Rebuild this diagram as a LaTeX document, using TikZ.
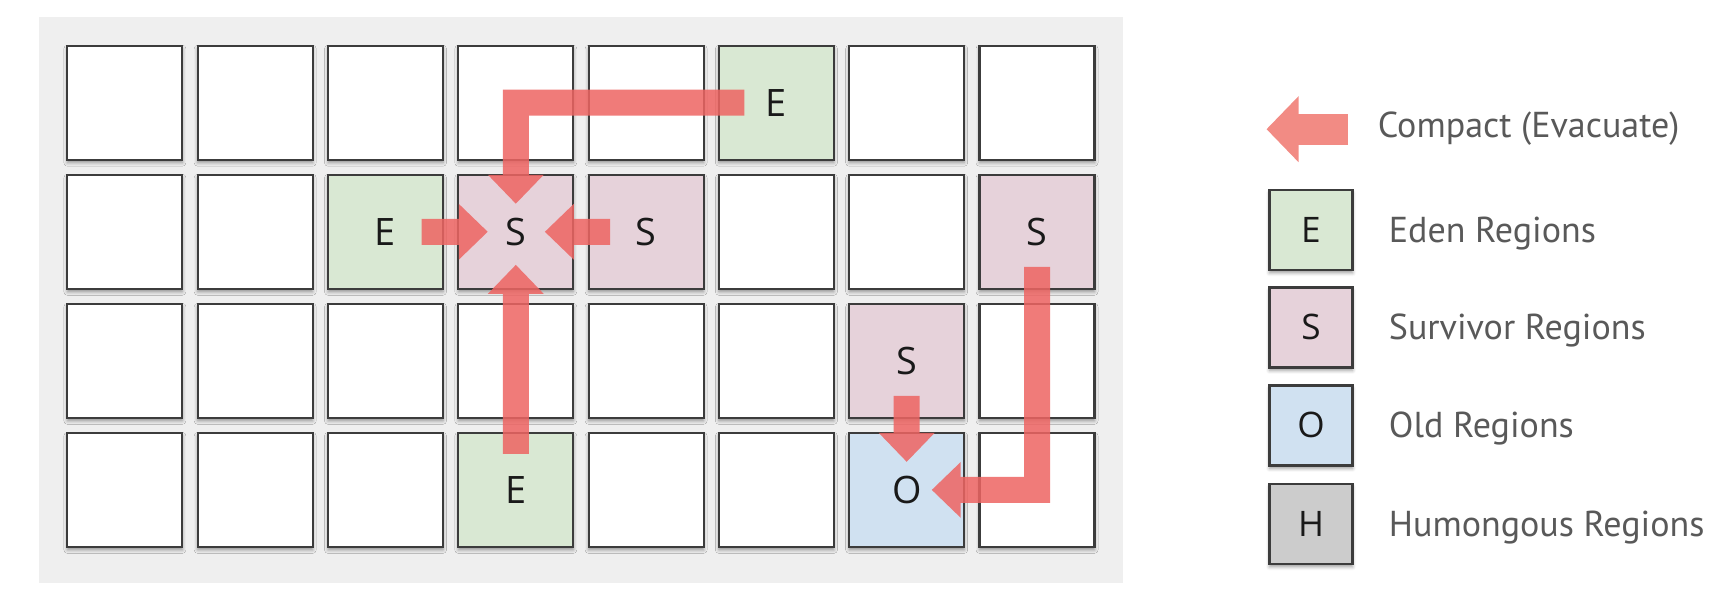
\documentclass[tikz,border=0pt]{standalone}
\usepackage{fontspec}
\setmainfont{PT Sans}
\newfontfamily\cellfont{Open Sans}
\usetikzlibrary{arrows.meta,positioning,shadows.blur,backgrounds}
\definecolor{heappanel}{HTML}{EFEFEF}
\definecolor{heapedge}{HTML}{3C3C3C}
\definecolor{fillw}{HTML}{FFFFFF}
\definecolor{fillE}{HTML}{D9E8D3}
\definecolor{fillS}{HTML}{E6D2DA}
\definecolor{fillO}{HTML}{D0E1F1}
\definecolor{fillH}{HTML}{CCCCCC}
\definecolor{evacred}{HTML}{EE6462}
\definecolor{keyred}{HTML}{F28B84}
\definecolor{keygrey}{HTML}{595959}
\newcommand\regiontag[1]{\if w#1\else#1\fi}
\tikzset{
  region/.style={
    draw=heapedge,
    line width=1.2pt,
    fill=fill#1,
    minimum width=2.3cm,
    minimum height=2.28cm,
    inner sep=0pt,
    text height=0.54cm,
    text depth=0pt,
    text=black!90,
    font=\cellfont\fontsize{21.5}{25}\selectfont,
    blur shadow={shadow xshift=0pt, shadow yshift=-0.06cm,
      shadow blur radius=0.07cm, shadow opacity=40}
  },
  keybox/.style={region=#1, minimum width=1.66cm, minimum height=1.6cm,
    text height=0.5cm, font=\cellfont\fontsize{20}{24}\selectfont},
  keylabel/.style={
    anchor=west,
    inner sep=0pt,
    text height=0.5cm,
    text depth=0pt,
    text=keygrey,
    font=\fontsize{20.5}{24}\selectfont
  },
  evac/.style={-{Triangle[width=1.08cm, length=0.58cm]}, line width=0.52cm,
    draw=evacred, line join=miter},
  keyarrow/.style={-{Triangle[width=1.28cm, length=0.64cm]}, line width=0.62cm,
    draw=keyred}
}
\begin{document}
\begin{tikzpicture}[x=1cm,y=1cm]
\useasboundingbox (0,0) rectangle (34.64,11.84);

% heap regions, row by row
\foreach \row [count=\r] in {{w,w,w,w,w,E,w,w},{w,w,E,S,S,w,w,S},
                             {w,w,w,w,w,w,S,w},{w,w,w,E,w,w,O,w}}
  \foreach \k [count=\c] in \row
    \node[region=\k] (r\r-c\c) at ({2.498+2.606*(\c-1)},{9.785-2.581*(\r-1)})
      {\regiontag{\k}};

% evacuation moves
\begin{scope}[transparency group, opacity=0.85]
  \draw[evac, shorten <=0.64cm, shorten >=0.56cm] (r1-c6.center) -| (r2-c4.center);
  \draw[evac, shorten <=0.72cm, shorten >=0.56cm] (r2-c3.center) -- (r2-c4.center);
  \draw[evac, shorten <=0.72cm, shorten >=0.58cm] (r2-c5.center) -- (r2-c4.center);
  \draw[evac, shorten <=0.72cm, shorten >=0.66cm] (r4-c4.center) -- (r2-c4.center);
  \draw[evac, shorten <=0.70cm, shorten >=0.56cm] (r3-c7.center) -- (r4-c7.center);
  \draw[evac, shorten <=0.70cm, shorten >=0.50cm] (r2-c8.center) |- (r4-c7.center);
\end{scope}

% legend
\node[keylabel] (compact) at (27.55,9.33) {Compact (Evacuate)};
\coordinate (keytail) at (26.96,9.256);
\coordinate (keytip) at (25.33,9.256);
\draw[keyarrow] (keytail) -- (keytip);

\node[keybox=E] (keyE) at (26.22,7.24) {E};
\node[keybox=S] (keyS) at (26.22,5.29) {S};
\node[keybox=O] (keyO) at (26.22,3.33) {O};
\node[keybox=H] (keyH) at (26.22,1.36) {H};
\node[keylabel, right=0.7cm of keyE] (eden) {Eden Regions};
\node[keylabel, right=0.7cm of keyS] (survivor) {Survivor Regions};
\node[keylabel, right=0.7cm of keyO] (old) {Old Regions};
\node[keylabel, right=0.7cm of keyH] (humongous) {Humongous Regions};

\begin{pgfonlayer}{background}
  \fill[heappanel] (0.77,0.172) rectangle (22.46,11.506);
\end{pgfonlayer}

\end{tikzpicture}
\end{document}
